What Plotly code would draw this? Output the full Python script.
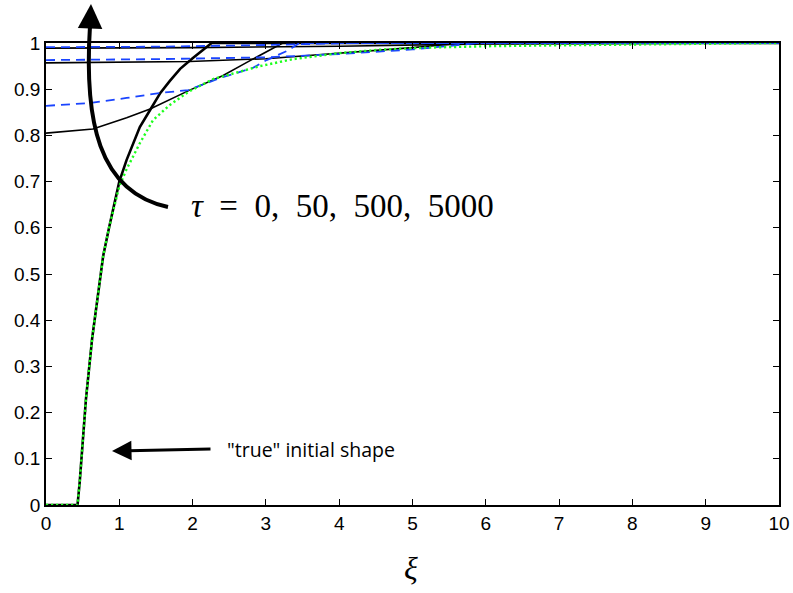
import plotly.graph_objects as go

# ---------------- data ----------------
x_true = [0, 0.43, 0.46, 0.5, 0.545, 0.63, 0.71, 0.78, 0.86, 0.94, 1.0, 1.1, 1.28, 1.46,
          1.69, 1.94, 2.28, 2.92, 3.37, 4.0, 4.6, 5.2, 6.0, 7.0, 8.0, 9.0, 10.0]
y_true = [0, 0, 0.05, 0.135, 0.229, 0.361, 0.459, 0.539, 0.60, 0.652, 0.69, 0.727, 0.783, 0.833,
          0.866, 0.894, 0.922, 0.950, 0.965, 0.978, 0.986, 0.990, 0.993, 0.995, 0.997, 0.998, 1.0]

x_tau0 = [0, 0.43, 0.46, 0.5, 0.545, 0.63, 0.71, 0.78, 0.86, 0.94, 1.0, 1.1, 1.28, 1.42, 1.56,
          1.69, 1.83, 2.0, 2.26, 10]
y_tau0 = [0, 0, 0.05, 0.135, 0.229, 0.361, 0.459, 0.539, 0.60, 0.655, 0.70, 0.747, 0.818, 0.855,
          0.892, 0.918, 0.944, 0.967, 1.0, 1.0]

x_tau50 = [0, 0.64, 1.1, 1.42, 1.96, 2.41, 2.74, 3.0, 3.23, 10]
y_tau50 = [0.805, 0.814, 0.838, 0.857, 0.898, 0.929, 0.958, 0.98, 1.0, 1.0]

x_tau500 = [0, 1.96, 3.0, 4.01, 5.0, 5.7, 10]
y_tau500 = [0.957, 0.960, 0.966, 0.978, 0.99, 1.0, 1.0]

x_tau5000 = [0, 2.0, 4.0, 6.0, 10]
y_tau5000 = [0.989, 0.990, 0.993, 0.998, 1.0]

x_app50 = [0, 0.6, 1.1, 1.56, 1.94, 2.37, 2.82, 3.01, 3.29, 3.46, 10]
y_app50 = [0.864, 0.870, 0.881, 0.892, 0.898, 0.924, 0.946, 0.963, 0.983, 1.0, 1.0]

x_app500 = [0, 1.5, 3.0, 4.0, 5.0, 5.9, 10]
y_app500 = [0.963, 0.965, 0.969, 0.976, 0.986, 1.0, 1.0]

x_app5000 = [0, 1.5, 2.8, 3.5, 4.2, 10]
y_app5000 = [0.991, 0.992, 0.995, 0.997, 1.0, 1.0]

x_ticks = [0, 1, 2, 3, 4, 5, 6, 7, 8, 9, 10]
y_ticks = [0, 0.1, 0.2, 0.3, 0.4, 0.5, 0.6, 0.7, 0.8, 0.9, 1]
y_ticktext = ["0", "0.1", "0.2", "0.3", "0.4", "0.5", "0.6", "0.7", "0.8", "0.9", "1"]

tau_label = "<i>τ</i>  =  0,  50,  500,  5000"
true_label = "\"true\" initial shape"
x_label = "<i>ξ</i>"

# ---------------- figure ----------------
W, H = 793, 593
L, R, T, B = 46, 14, 43, 88
PW, PH = W - L - R, H - T - B


def px(xp):
    return (xp - L) / PW


def py(yp):
    return (T + PH - yp) / PH


fig = go.Figure()

black = "#000000"
blue = "#1a44ff"
green = "#1eff1e"

fig.add_trace(go.Scatter(x=x_tau0, y=y_tau0, mode="lines",
                         line=dict(color=black, width=2.6), hoverinfo="skip"))
for xs, ys in [(x_tau50, y_tau50), (x_tau500, y_tau500), (x_tau5000, y_tau5000)]:
    fig.add_trace(go.Scatter(x=xs, y=ys, mode="lines",
                             line=dict(color=black, width=1.6), hoverinfo="skip"))
for xs, ys in [(x_app50, y_app50), (x_app500, y_app500), (x_app5000, y_app5000)]:
    fig.add_trace(go.Scatter(x=xs, y=ys, mode="lines",
                             line=dict(color=blue, width=1.8, dash="9px,6px"), hoverinfo="skip"))
fig.add_trace(go.Scatter(x=x_true, y=y_true, mode="lines",
                         line=dict(color=green, width=2.4, dash="2.2px,2.8px"), hoverinfo="skip"))

tickfont = dict(family="Liberation Sans Narrow, Liberation Sans, Arial", size=19, color="black")

fig.update_layout(
    width=W, height=H,
    margin=dict(l=L, r=R, t=T, b=B, pad=0),
    paper_bgcolor="white", plot_bgcolor="white",
    showlegend=False,
    xaxis=dict(range=[0, 10], tickvals=x_ticks, ticks="inside", ticklen=6, tickwidth=1,
               tickcolor="black", showline=True, linecolor="black", linewidth=1.6,
               mirror="ticks", showgrid=False, zeroline=False, tickfont=tickfont,
               automargin=False),
    yaxis=dict(range=[0, 1], tickvals=y_ticks, ticktext=y_ticktext, ticks="inside", ticklen=6,
               tickwidth=1, tickcolor="black", showline=True, linecolor="black", linewidth=1.6,
               mirror="ticks", showgrid=False, zeroline=False, tickfont=tickfont,
               automargin=False),
)

# curved arrow (body)
p0, p1, p2, p3 = (168, 207), (98, 192), (84, 120), (90, 26)
path = "M {},{} C {},{} {},{} {},{}".format(px(p0[0]), py(p0[1]), px(p1[0]), py(p1[1]),
                                            px(p2[0]), py(p2[1]), px(p3[0]), py(p3[1]))
fig.add_shape(type="path", path=path, xref="paper", yref="paper",
              line=dict(color="black", width=4))

# curved arrow head
fig.add_annotation(x=px(91), y=py(4), xref="paper", yref="paper", text="",
                   showarrow=True, ax=-1, ay=26, axref="pixel", ayref="pixel",
                   arrowhead=2, arrowsize=1.4, arrowwidth=3.5, arrowcolor="black")

# tau label
fig.add_annotation(x=px(189), y=py(206), xref="paper", yref="paper", text=tau_label,
                   showarrow=False, xanchor="left", yanchor="middle",
                   font=dict(family="Liberation Serif, DejaVu Serif, serif", size=33, color="black"))

# "true" initial shape arrow
fig.add_annotation(x=px(112), y=py(451), xref="paper", yref="paper", text="",
                   showarrow=True, ax=100, ay=-2,
                   arrowhead=2, arrowsize=1.3, arrowwidth=3, arrowcolor="black")
fig.add_annotation(x=px(225), y=py(449), xref="paper", yref="paper", text=true_label,
                   showarrow=False, xanchor="left", yanchor="middle",
                   font=dict(family="Open Sans, Lato, sans-serif", size=19.5, color="black"))

# x-axis label
fig.add_annotation(x=px(411), y=py(568), xref="paper", yref="paper", text=x_label,
                   showarrow=False, xanchor="center", yanchor="middle",
                   font=dict(family="Liberation Serif, DejaVu Serif, serif", size=32, color="black"))

fig.write_html("out.html")
